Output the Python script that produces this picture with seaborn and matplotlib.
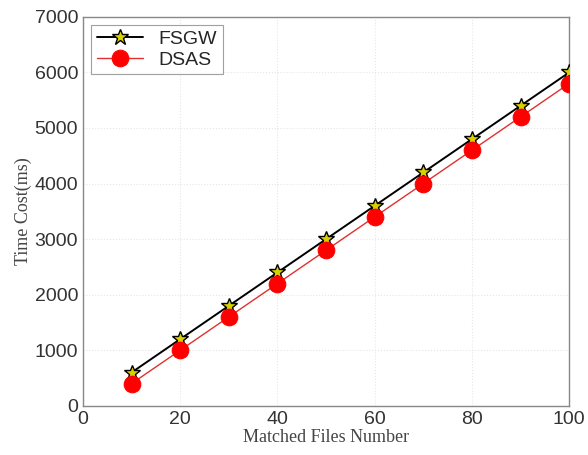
"""Time cost vs matched files: FSGW vs DSAS."""

import matplotlib
matplotlib.use("Agg")
import matplotlib.pyplot as plt
import pandas as pd
import seaborn as sns

files_number = [10, 20, 30, 40, 50, 60, 70, 80, 90, 100]
fsgw_cost = [600, 1200, 1800, 2400, 3000, 3600, 4200, 4800, 5400, 6000]
dsas_cost = [400, 1000, 1600, 2200, 2800, 3400, 4000, 4600, 5200, 5800]
x_ticks = [0, 20, 40, 60, 80, 100]
y_ticks = [0, 1000, 2000, 3000, 4000, 5000, 6000, 7000]

df = pd.DataFrame({
    "files": files_number * 2,
    "cost": fsgw_cost + dsas_cost,
    "method": ["FSGW"] * len(files_number) + ["DSAS"] * len(files_number),
})

sns.set_style("white")
plt.rcParams["font.family"] = ["Liberation Sans", "DejaVu Sans"]

fig = plt.figure(figsize=(5.88, 4.55), dpi=100)
ax = fig.add_axes([0.141, 0.108, 0.827, 0.855])

sns.lineplot(
    data=df[df.method == "FSGW"], x="files", y="cost", ax=ax,
    color="black", linewidth=1.4, marker="*", markersize=12,
    markerfacecolor="#d8d000", markeredgecolor="black", markeredgewidth=1.0,
    label="FSGW", zorder=3,
)
sns.lineplot(
    data=df[df.method == "DSAS"], x="files", y="cost", ax=ax,
    color="#e03030", linewidth=1.0, marker="o", markersize=12,
    markerfacecolor="#ff0000", markeredgecolor="#ff0000",
    label="DSAS", zorder=4,
)

ax.set_xlim(0, 100)
ax.set_ylim(0, 7000)
ax.set_xticks(x_ticks)
ax.set_yticks(y_ticks)
ax.tick_params(axis="both", labelsize=14, colors="#333333", length=3, direction="in")
ax.grid(True, color="#e6e6e6", linestyle=":", linewidth=0.8)
for side in ax.spines.values():
    side.set_color("#888888")
    side.set_linewidth(1.0)

ax.set_xlabel("Matched Files Number", fontsize=13, family="Liberation Serif",
              color="#444444", labelpad=1)
ax.set_ylabel("Time Cost(ms)", fontsize=13, family="Liberation Serif",
              color="#444444", labelpad=2)

leg = ax.legend(loc="upper left", fontsize=14, frameon=True, fancybox=False,
                borderpad=0.3, handlelength=2.4, labelspacing=0.15,
                borderaxespad=0.4)
leg.get_frame().set_edgecolor("#888888")
leg.get_frame().set_linewidth(0.8)

fig.savefig("out.png", dpi=100)
